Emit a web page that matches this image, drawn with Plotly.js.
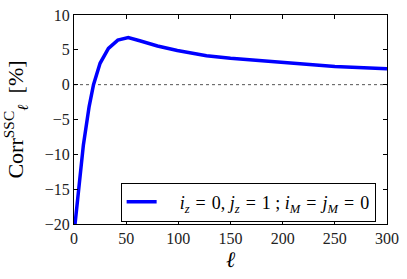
<!DOCTYPE html>
<html>
<head>
<meta charset="utf-8">
<script src="https://cdn.plot.ly/plotly-3.0.1.min.js"></script>
<style>
  html, body { margin: 0; padding: 0; background: #fff; }
  #chart { width: 407px; height: 279px; }
</style>
</head>
<body>
<div id="chart"></div>
<script>
// values
const ell = [1, 5, 9, 14.5, 18.7, 25, 33, 42, 52, 63, 80, 99, 127, 150, 178, 200, 250, 300];
const corr = [-20, -14.2, -8.65, -3.15, 0, 3.07, 5.2, 6.4, 6.75, 6.3, 5.55, 4.9, 4.15, 3.8, 3.45, 3.2, 2.62, 2.28];

const sp = '\u2004';
const seriesName = '\u2002\u2002<i>i</i><sub><i>z</i></sub>' + sp + '=' + sp + '0, <i>j</i><sub><i>z</i></sub>' + sp + '=' + sp + '1 ; <i>i</i><sub><i>M</i></sub>' + sp + '=' + sp + '<i>j</i><sub><i>M</i></sub>' + sp + '=' + sp + '0';

const xTicks = [0, 50, 100, 150, 200, 250, 300];
const yTicks = [-20, -15, -10, -5, 0, 5, 10];

const serif = 'Liberation Serif, DejaVu Serif, serif';

const axisBase = {
    showline: true, linecolor: '#000', linewidth: 1, mirror: 'ticks',
    ticks: 'inside', ticklen: 4, tickwidth: 1, tickcolor: '#000',
    showgrid: false, zeroline: false,
    tickfont: { family: serif, size: 16, color: '#222' }
};

const traceCorr = {
    x: ell, y: corr, type: 'scatter', mode: 'lines', name: seriesName,
    line: { color: '#0000ff', width: 3.5 }
};

const layout = {
    width: 407, height: 279,
    paper_bgcolor: '#fff', plot_bgcolor: '#fff',
    margin: { l: 74, r: 20, t: 15, b: 55 },
    font: { family: serif, color: '#000' },
    showlegend: true,
    legend: {
        x: 0.149, y: 0.198, xanchor: 'left', yanchor: 'top',
        bgcolor: '#fff', bordercolor: '#000', borderwidth: 1,
        font: { family: serif, size: 18, color: '#000' }
    },
    xaxis: {
        ...axisBase, range: [0, 300], tickvals: xTicks,
        title: { text: '<i>ℓ</i>', font: { family: serif, size: 22 }, standoff: 4 }
    },
    yaxis: {
        ...axisBase, range: [-20, 10], tickvals: yTicks,
        title: { text: 'Corr<sup>SSC</sup><sub><i>ℓ</i></sub>  [%]', font: { family: serif, size: 22 }, standoff: 16 }
    },
    shapes: [{
        type: 'line', xref: 'paper', x0: 0, x1: 1, yref: 'y', y0: 0, y1: 0,
        line: { color: '#555', width: 1, dash: 'dot' }, layer: 'below'
    }]
};

Plotly.newPlot('chart', [traceCorr], layout, { displayModeBar: false, staticPlot: true });
</script>
</body>
</html>
